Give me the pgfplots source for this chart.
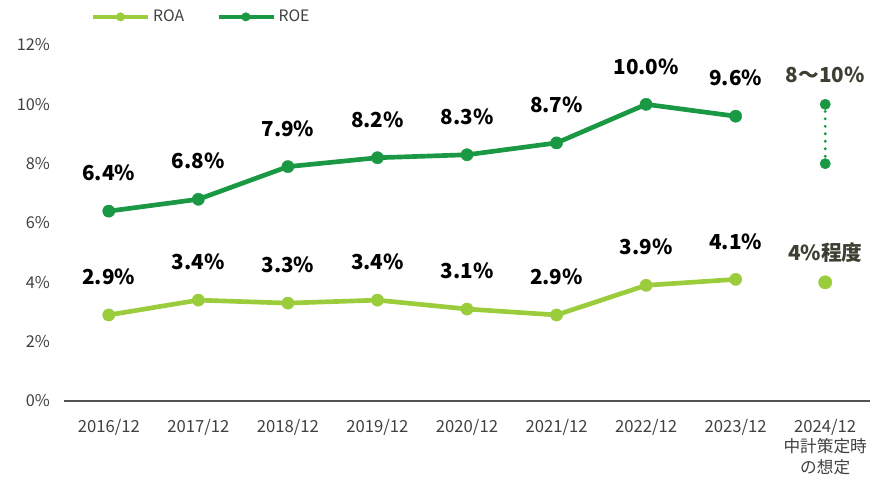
\documentclass[border=0pt]{standalone}
\usepackage{fontspec}
\setmainfont{Noto Sans CJK JP}
\usepackage{pgfplots}
\pgfplotsset{compat=1.18}
\definecolor{roa}{RGB}{155,204,59}
\definecolor{roe}{RGB}{26,152,68}
\definecolor{tickc}{RGB}{64,64,64}
\definecolor{note}{RGB}{62,62,50}

\begin{document}
\begin{tikzpicture}
\begin{axis}[
  scale only axis, width=604.5pt, height=267pt,
  xmin=-0.5, xmax=8.5, ymin=0, ymax=12,
  axis x line*=bottom, axis y line*=left,
  y axis line style={draw=none},
  x axis line style={draw=tickc!90, line width=0.8pt, -},
  major tick length=0pt,
  xtick={0,...,8},
  xticklabels={2016/12,2017/12,2018/12,2019/12,2020/12,2021/12,2022/12,2023/12,{2024/12\\中計策定時\\の想定}},
  xticklabel style={align=center, font=\fontsize{12.5}{15.5}\selectfont, text=tickc, yshift=-10pt},
  ytick={0,2,...,12},
  yticklabel={\pgfmathprintnumber{\tick}\%},
  yticklabel style={font=\fontsize{12.2}{14}\selectfont, text=tickc, xshift=-7pt},
  /pgf/number format/assume math mode=true,
  clip=false,
  legend columns=2,
  legend style={draw=none, fill=none, at={(rel axis cs:0.028,1.079)}, anchor=west,
    font=\fontsize{11.8}{14}\selectfont, text=tickc,
    /tikz/every even column/.append style={column sep=22pt}},
  legend image code/.code={\draw[mark repeat=2,mark phase=2,#1,mark size=3.2pt]
    plot coordinates {(0cm,0cm) (0.72cm,0cm) (1.45cm,0cm)};},
  nodes near coords={\pgfmathprintnumber[fixed,fixed zerofill,precision=1]{\pgfplotspointmeta}\%},
  every node near coord/.append style={font=\bfseries\fontsize{15.5}{18}\selectfont, text=black, anchor=center, yshift=28.5pt},
  point meta=y,
]
\addplot[roa, line width=3.5pt, mark=*, mark size=4.6pt, mark options={line width=0.3pt}] coordinates {
  (0,2.9) (1,3.4) (2,3.3) (3,3.4) (4,3.1) (5,2.9) (6,3.9) (7,4.1)
};
\addlegendentry{ROA}
\addplot[roe, line width=3.5pt, mark=*, mark size=4.6pt, mark options={line width=0.3pt}] coordinates {
  (0,6.4) (1,6.8) (2,7.9) (3,8.2) (4,8.3) (5,8.7) (6,10.0) (7,9.6)
};
\addlegendentry{ROE}
\addplot[roe, line width=2.4pt, dash pattern=on 0pt off 5.6pt, line cap=round,
  mark=*, mark size=3.9pt, mark options={solid, line width=0.3pt}, nodes near coords={}, forget plot]
  coordinates {(8,8) (8,10)};
\addplot[roa, only marks, mark=*, mark size=5pt, mark options={line width=0.3pt}, nodes near coords={}, forget plot]
  coordinates {(8,4)};
\node[font=\bfseries\fontsize{15.5}{18}\selectfont, text=note] at (axis cs:8,10) [yshift=22pt] {8〜10\%};
\node[font=\bfseries\fontsize{15.5}{18}\selectfont, text=note] at (axis cs:8,4) [yshift=22.5pt] {4\%程度};
\end{axis}
\path (current axis.south west) ++(-48pt,-58.5pt) rectangle ++(657.75pt,359.25pt);
\end{tikzpicture}
\end{document}
